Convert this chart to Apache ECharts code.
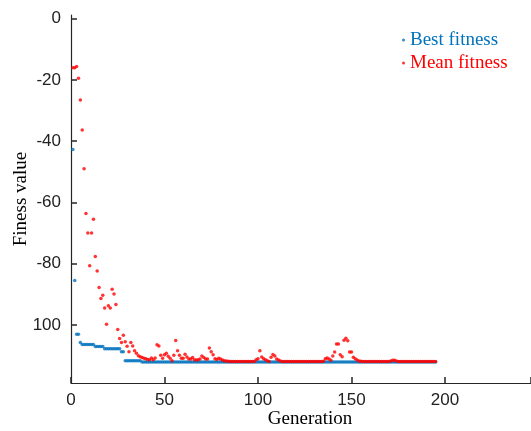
<!DOCTYPE html>
<html>
<head>
<meta charset="utf-8">
<script src="https://cdn.jsdelivr.net/npm/echarts@6/dist/echarts.min.js"></script>
<style>
  html, body { margin: 0; padding: 0; background: #fff; }
  #main { width: 531px; height: 431px; }
</style>
</head>
<body>
<div id="main"></div>
<script>
// tick labels
const xTicks = [0, 50, 100, 150, 200];
const yTicks = [0, -20, -40, -60, -80, -100];

// best fitness per generation (gen 1..195)
const bestFitness = [
  -42.7, -85.5, -103.1, -103.1, -105.8, -106.4, -106.4, -106.4, -106.4, -106.4,
  -106.4, -106.4, -107.1, -107.1, -107.1, -107.1, -107.1, -107.8, -107.8, -107.8,
  -107.8, -107.8, -107.8, -107.8, -107.8, -107.8, -108.8, -108.8, -111.7, -111.7,
  -111.7, -111.7, -111.7, -111.7, -111.7, -111.7, -111.7, -112.1, -112.1, -112.1,
  -112.1, -112.1, -112.1, -112.1, -112.1, -112.1, -112.1, -112.1, -112.1, -112.1,
  -112.1, -112.1, -112.1, -112.1, -112.1, -112.1, -112.1, -112.1, -112.1, -112.1,
  -112.1, -112.1, -112.1, -112.1, -112.1, -112.1, -112.1, -112.1, -112.1, -112.1,
  -112.1, -112.1, -112.1, -112.1, -112.1, -112.1, -112.1, -112.1, -112.1, -112.1,
  -112.1, -112.1, -112.1, -112.1, -112.1, -112.1, -112.1, -112.1, -112.1, -112.1,
  -112.1, -112.1, -112.1, -112.1, -112.1, -112.1, -112.1, -112.1, -112.1, -112.1,
  -112.1, -112.1, -112.1, -112.1, -112.1, -112.1, -112.1, -112.1, -112.1, -112.1,
  -112.1, -112.1, -112.1, -112.1, -112.1, -112.1, -112.1, -112.1, -112.1, -112.1,
  -112.1, -112.1, -112.1, -112.1, -112.1, -112.1, -112.1, -112.1, -112.1, -112.1,
  -112.1, -112.1, -112.1, -112.1, -112.1, -112.1, -112.1, -112.1, -112.1, -112.1,
  -112.1, -112.1, -112.1, -112.1, -112.1, -112.1, -112.1, -112.1, -112.1, -112.1,
  -112.1, -112.1, -112.1, -112.1, -112.1, -112.1, -112.1, -112.1, -112.1, -112.1,
  -112.1, -112.1, -112.1, -112.1, -112.1, -112.1, -112.1, -112.1, -112.1, -112.1,
  -112.1, -112.1, -112.1, -112.1, -112.1, -112.1, -112.1, -112.1, -112.1, -112.1,
  -112.1, -112.1, -112.1, -112.1, -112.1, -112.1, -112.1, -112.1, -112.1, -112.1,
  -112.1, -112.1, -112.1, -112.1, -112.1
];

// mean fitness per generation (gen 1..195)
const meanFitness = [
  -16.0, -16.0, -15.6, -19.5, -26.6, -36.4, -49.0, -63.6, -70.0, -80.7,
  -70.0, -65.5, -77.7, -82.4, -87.8, -91.4, -90.3, -94.5, -99.8, -93.8,
  -94.5, -88.4, -89.9, -93.4, -101.5, -104.5, -105.8, -103.4, -105.5, -107.0,
  -108.8, -105.8, -106.9, -108.5, -109.3, -110.1, -110.4, -110.7, -110.9, -111.1,
  -111.3, -111.4, -110.8, -111.4, -110.8, -106.5, -106.9, -109.9, -110.9, -109.8,
  -109.3, -110.3, -110.9, -111.7, -109.9, -105.1, -108.5, -109.9, -110.9, -110.9,
  -109.6, -110.5, -111.2, -111.2, -110.7, -111.4, -111.5, -111.4, -111.2, -110.2,
  -110.7, -111.2, -111.2, -107.6, -108.8, -109.8, -111.1, -111.3, -110.9, -111.2,
  -111.5, -111.7, -111.8, -111.9, -112.0, -112.0, -112.0, -112.0, -112.0, -112.0,
  -112.0, -112.0, -112.0, -112.0, -112.0, -112.0, -112.0, -112.0, -111.4, -111.1,
  -108.5, -110.5, -111.1, -111.4, -111.7, -112.0, -110.6, -109.7, -110.2, -111.2,
  -111.5, -111.8, -112.0, -112.0, -112.0, -112.0, -112.0, -112.0, -112.0, -112.0,
  -112.0, -112.0, -112.0, -112.0, -112.0, -112.0, -112.0, -112.0, -112.0, -112.0,
  -112.0, -112.0, -112.0, -112.0, -111.9, -111.1, -110.8, -111.2, -111.6, -110.2,
  -108.9, -106.3, -106.3, -109.8, -110.4, -105.0, -104.4, -105.2, -108.9, -108.9,
  -110.6, -111.1, -111.5, -111.8, -111.9, -112.0, -112.0, -112.0, -112.0, -112.0,
  -112.0, -112.0, -112.0, -112.0, -112.0, -112.0, -112.0, -112.0, -112.0, -112.0,
  -111.8, -111.6, -111.6, -111.8, -112.0, -112.0, -112.0, -112.0, -112.0, -112.0,
  -112.0, -112.0, -112.0, -112.0, -112.0, -112.0, -112.0, -112.0, -112.0, -112.0,
  -112.0, -112.0, -112.0, -112.0, -112.0
];

const toPoints = arr => arr.map((v, i) => [i + 1, v]);

const chart = echarts.init(document.getElementById('main'));
const axisColor = '#262626';
const sans = '"Liberation Sans", Arial, sans-serif';
const serif = '"Liberation Serif", "Times New Roman", serif';

chart.setOption({
  animation: false,
  backgroundColor: '#fff',
  grid: { left: 71, right: 0, top: 15, bottom: 48, outerBoundsMode: 'none', containLabel: false },
  legend: {
    orient: 'vertical',
    left: 397,
    top: 25,
    icon: 'circle',
    itemWidth: 3,
    itemHeight: 3,
    itemGap: 3,
    textStyle: { fontFamily: serif, fontSize: 19, lineHeight: 20 },
    data: [
      { name: 'Best fitness', textStyle: { color: '#0072BD' } },
      { name: 'Mean fitness', textStyle: { color: '#FF0000' } }
    ]
  },
  xAxis: {
    type: 'value',
    min: 0,
    max: 246,
    interval: 50,
    name: 'Generation',
    nameLocation: 'middle',
    nameGap: 27,
    nameMoveOverlap: false,
    nameTextStyle: { fontFamily: serif, fontSize: 19, color: '#000', padding: [0, 0, 0, 18] },
    splitLine: { show: false },
    axisLine: { onZero: false, lineStyle: { color: axisColor, width: 1.2 } },
    axisTick: { show: true, inside: true, length: 6, lineStyle: { color: axisColor, width: 1.5 } },
    axisLabel: {
      fontFamily: sans, fontSize: 17, color: '#222', margin: 9,
      formatter: v => (xTicks.indexOf(v) >= 0 ? String(v) : '')
    }
  },
  yAxis: {
    type: 'value',
    min: -119,
    max: 1.2,
    name: 'Finess value',
    nameLocation: 'middle',
    nameGap: 40,
    nameMoveOverlap: false,
    nameTextStyle: { fontFamily: serif, fontSize: 19, color: '#000' },
    splitLine: { show: false },
    axisLine: { show: true, onZero: false, lineStyle: { color: axisColor, width: 1.2 } },
    axisTick: { show: true, inside: true, length: 6, customValues: yTicks, lineStyle: { color: axisColor, width: 1.5 } },
    axisLabel: {
      customValues: yTicks,
      fontFamily: sans, fontSize: 17, color: '#222', margin: 10,
      formatter: v => (v === -100 ? '100' : String(v))
    }
  },
  series: [
    {
      name: 'Best fitness',
      type: 'scatter',
      symbol: 'circle',
      symbolSize: 3.5,
      itemStyle: { color: '#0072BD' },
      data: toPoints(bestFitness)
    },
    {
      name: 'Mean fitness',
      type: 'scatter',
      symbol: 'circle',
      symbolSize: 3.5,
      itemStyle: { color: '#FF0000' },
      data: toPoints(meanFitness)
    }
  ]
});
</script>
</body>
</html>
